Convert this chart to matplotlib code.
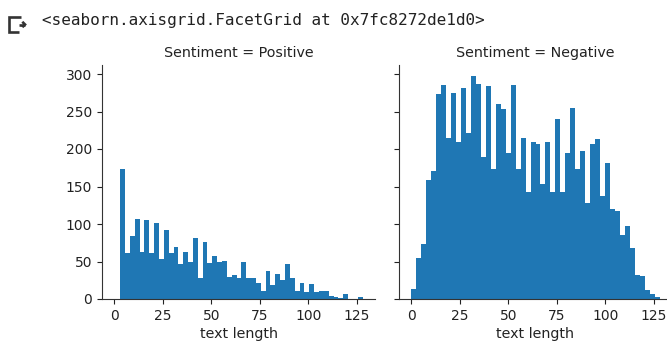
"""
FacetGrid de longitud de texto por sentimiento (dos histogramas, 50 bins).
Se reconstruye desde los conteos leidos del grafico original.
"""
import numpy as np
import matplotlib
matplotlib.use("Agg")
import matplotlib.pyplot as plt
from matplotlib.lines import Line2D

# Conteos por bin (50 bins cada uno)
SENTIMIENTOS = ["Positive", "Negative"]
POS_RANGO = (3, 128)
POS_CONTEOS = [174, 61, 84, 107, 63, 105, 61, 101, 53, 92,
               61, 69, 47, 63, 49, 82, 28, 76, 48, 57,
               49, 51, 29, 32, 28, 49, 28, 28, 22, 11,
               37, 19, 34, 25, 47, 28, 11, 22, 10, 20,
               9, 11, 11, 4, 3, 2, 7, 0, 0, 3]
NEG_RANGO = (0, 128)
NEG_CONTEOS = [13, 55, 74, 159, 171, 274, 286, 215, 275, 210,
               282, 222, 297, 287, 189, 284, 173, 260, 253, 195,
               286, 174, 215, 143, 209, 207, 153, 209, 143, 240,
               143, 195, 255, 174, 197, 128, 207, 213, 138, 182,
               120, 118, 86, 97, 68, 32, 31, 12, 7, 3]
Y_TICKS = [0, 50, 100, 150, 200, 250, 300]
X_TICKS = [0, 25, 50, 75, 100, 125]

AZUL = "#1f77b4"
TXT = "#222222"
W, H = 667, 347

fig = plt.figure(figsize=(W / 100, H / 100), dpi=100)


def px(x, y):
    return x / W, 1 - y / H


# salida de la celda (icono + repr)
icon = [([20.5, 9, 9, 18.5], [17, 17, 32, 32]),
        ([18.5, 25], [24.5, 24.5]),
        ([22.3, 25, 22.3], [21.8, 24.5, 27.2])]
for xs, ys in icon:
    fx, fy = zip(*[px(a, b) for a, b in zip(xs, ys)])
    fig.add_artist(Line2D(fx, fy, color="#333333", lw=1.9,
                          solid_capstyle="butt", solid_joinstyle="miter"))
fig.text(*px(42, 21), "<seaborn.axisgrid.FacetGrid at 0x7fc8272de1d0>",
         family="DejaVu Sans Mono", fontsize=11.5, va="center", color=TXT)

ax1 = fig.add_axes([102 / W, 1 - 299 / H, 273 / W, 234 / H])
ax2 = fig.add_axes([399 / W, 1 - 299 / H, 273 / W, 234 / H],
                   sharex=ax1, sharey=ax1)

datos = [(POS_RANGO, POS_CONTEOS), (NEG_RANGO, NEG_CONTEOS)]
for ax, nombre, (rango, conteos) in zip([ax1, ax2], SENTIMIENTOS, datos):
    edges = np.linspace(rango[0], rango[1], len(conteos) + 1)
    ax.hist(edges[:-1], bins=edges, weights=conteos, color=AZUL)
    ax.set_title(f"Sentiment = {nombre}", fontsize=10.3, color=TXT, pad=6)
    ax.set_xlabel("text length", fontsize=10.3, color=TXT, labelpad=3)
    for s in ["top", "right"]:
        ax.spines[s].set_visible(False)
    for s in ["left", "bottom"]:
        ax.spines[s].set_color("#333333")
    ax.tick_params(labelsize=10, colors=TXT)

ax1.set_xticks(X_TICKS)
ax1.set_yticks(Y_TICKS)
ax1.set_xlim(-6.4, 134.4)
ax1.set_ylim(0, 312)
ax2.tick_params(labelleft=False)

fig.savefig("out.png", dpi=100)
